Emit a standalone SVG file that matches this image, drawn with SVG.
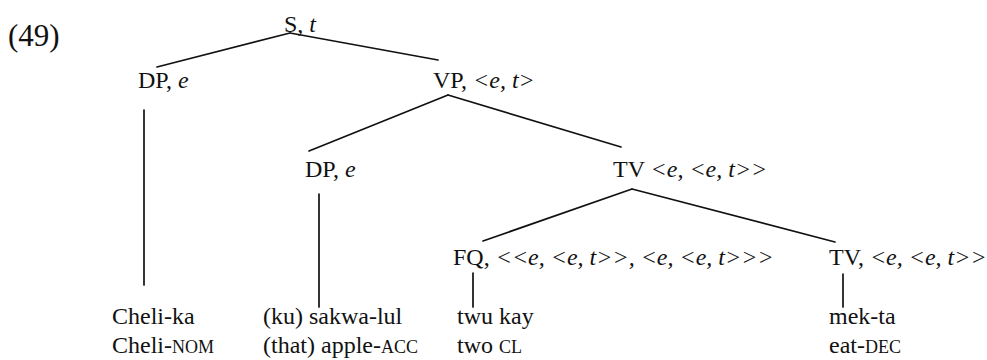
<svg xmlns="http://www.w3.org/2000/svg" width="987" height="360" viewBox="0 0 987 360">
<style>
text{font-family:'Liberation Serif','Times New Roman','DejaVu Serif',serif;font-size:24px;fill:#111}
.i{font-style:italic}
.sc{font-size:18px}
.num{font-size:31px}
line{stroke:#111;stroke-width:1.7;stroke-linecap:round}
</style>
<rect width="987" height="360" fill="#fff"/>
<text class="num" x="8" y="46">(49)</text>
<g id="connectors">
<line x1="290" y1="33" x2="157" y2="67"/>
<line x1="290" y1="33" x2="438" y2="60"/>
<line x1="448" y1="95" x2="309" y2="151"/>
<line x1="448" y1="95" x2="621" y2="147"/>
<line x1="632" y1="189" x2="483" y2="241"/>
<line x1="632" y1="189" x2="835" y2="242"/>
<line x1="144" y1="110" x2="144" y2="285"/>
<line x1="319" y1="194" x2="319" y2="307"/>
<line x1="473" y1="273" x2="473" y2="307"/>
<line x1="843" y1="274" x2="843" y2="307"/>
</g>
<g id="S"><text x="284" y="32">S, <tspan class="i">t</tspan></text></g>
<g id="DP1"><text x="138" y="88">DP, <tspan class="i">e</tspan></text></g>
<g id="VP"><text x="433" y="88">VP, <tspan class="i">&lt;e, t&gt;</tspan></text></g>
<g id="DP2"><text x="305" y="177">DP, <tspan class="i">e</tspan></text></g>
<g id="TV1"><text x="613" y="177">TV <tspan class="i">&lt;e, &lt;e, t&gt;&gt;</tspan></text></g>
<g id="FQ"><text x="453" y="265">FQ, <tspan class="i">&lt;&lt;e, &lt;e, t&gt;&gt;, &lt;e, &lt;e, t&gt;&gt;&gt;</tspan></text></g>
<g id="TV2"><text x="829" y="265">TV, <tspan class="i">&lt;e, &lt;e, t&gt;&gt;</tspan></text></g>
<g id="Cheli">
<text x="112" y="324">Cheli-ka</text>
<text x="112" y="353">Cheli-<tspan class="sc">NOM</tspan></text>
</g>
<g id="sakwa">
<text x="263" y="324">(ku) sakwa-lul</text>
<text x="263" y="353">(that) apple-<tspan class="sc">ACC</tspan></text>
</g>
<g id="twu">
<text x="457" y="324">twu kay</text>
<text x="457" y="353">two <tspan class="sc">CL</tspan></text>
</g>
<g id="mek">
<text x="829" y="324">mek-ta</text>
<text x="829" y="353">eat-<tspan class="sc">DEC</tspan></text>
</g>
</svg>
